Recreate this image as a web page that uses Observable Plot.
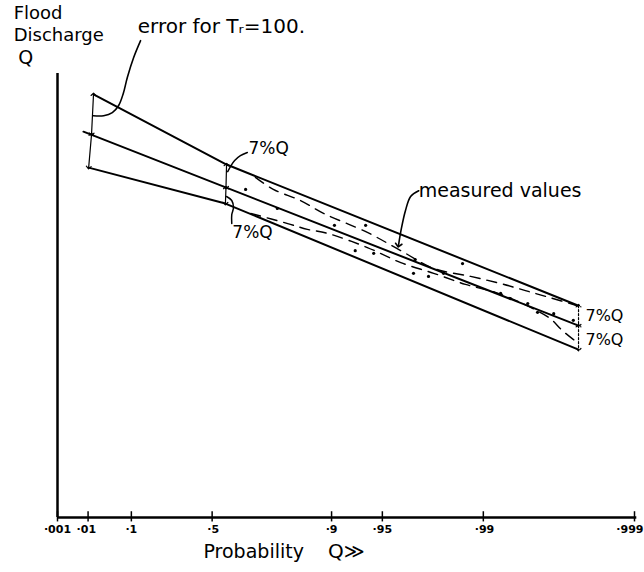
<!DOCTYPE html>
<html><head><meta charset="utf-8">
<script src="https://cdn.jsdelivr.net/npm/d3@7"></script>
<script src="https://cdn.jsdelivr.net/npm/@observablehq/plot@0.6"></script>
<style>body{margin:0;background:#fff}</style>
</head><body><div id="chart"></div>
<script>
// x: distance along the probability paper (0..100); y: flood discharge Q (arbitrary units)
const tickPos = [0, 5.3, 12.8, 26.8, 47.5, 56.3, 73.8, 100];
const tickLabels = ["·001", "·01", "·1", "·5", "·9", "·95", "·99", "·999"];
const tickLabelPos = [0, 5.0, 12.8, 27.0, 47.5, 56.3, 74.0, 99.2];

const upperU = [6.24, 29.3, 90.3];
const upperQ = [95.3, 79.5, 47.7];
const middleU = [4.5, 90.3];
const middleQ = [86.9, 43.2];
const lowerU = [5.4, 29.1, 90.3];
const lowerQ = [78.8, 70.7, 37.8];

const dashUpperU = [34.3, 37.4, 42.1, 46.1, 53.7, 59.5, 65.2, 71.6, 76.8, 81.1, 85.4, 90.1];
const dashUpperQ = [76.6, 73.9, 71.4, 68.5, 64.2, 60.1, 56.1, 54.3, 52.7, 51.1, 49.5, 47.7];
const dashLowerU = [33.5, 39.9, 43.3, 46.8, 53.7, 59.5, 65.2, 70.7, 75.9, 79.4, 82.8, 85.4, 87.5, 90.1];
const dashLowerQ = [68.5, 66.2, 64.9, 64.0, 60.8, 57.4, 55.0, 52.5, 50.7, 48.9, 46.8, 44.8, 42.1, 39.4];

const measuredU = [32.6, 38.1, 48.0, 53.4, 51.6, 54.8, 62.0, 61.7, 64.3, 66.9, 70.2, 76.8, 78.5, 81.5, 83.2, 86.0, 89.4];
const measuredQ = [73.9, 69.6, 65.8, 65.8, 60.1, 59.5, 58.1, 55.0, 54.3, 55.0, 57.2, 50.5, 49.3, 48.2, 46.2, 45.9, 44.4];

// error bars (7% Q) at three places: [top, middle, bottom]
const errLeftU = [6.24, 5.9, 5.4];
const errLeftQ = [95.3, 86.3, 78.8];
const errMidU = [29.3, 29.2, 29.1];
const errMidQ = [79.5, 74.3, 70.7];
const errRightU = [90.3, 90.3, 90.3];
const errRightQ = [47.7, 43.2, 37.8];

// leader curves
const leadErrU = [14.4, 13.2, 12.1, 11.4, 10.6, 9.5, 8.0, 6.2];
const leadErrQ = [107.4, 103.6, 99.1, 95.5, 92.8, 91.2, 90.5, 90.5];
const leadMeasU = [62.6, 61.2, 60.3, 59.6, 59.1];
const leadMeasQ = [73.6, 72.3, 69.1, 65.1, 61.3];
const leadMidUpU = [32.9, 31.7, 30.7, 30.0, 29.5];
const leadMidUpQ = [82.2, 81.5, 80.4, 79.1, 77.9];
const leadMidLoU = [30.2, 30.2, 30.5, 30.2, 29.3];
const leadMidLoQ = [66.2, 68.2, 69.8, 71.4, 72.3];

const zip = (us, qs) => us.map((u, i) => ({u, q: qs[i]}));
const seg = (us, qs, a, b) => [{u: us[a], q: qs[a]}, {u: us[b], q: qs[b]}];

const font = "DejaVu Sans";
const lw = 2;

const marks = [
  // axes
  Plot.ruleY([0], {x1: 0, x2: 100.4, stroke: "black", strokeWidth: 2.5}),
  Plot.ruleX([0], {y1: 0, y2: 100, stroke: "black", strokeWidth: 2.5}),
  Plot.ruleX(tickPos, {y1: -1, y2: 1.3, stroke: "black", strokeWidth: 1.5}),
  Plot.text(tickLabelPos, {x: d => d, y: -2.6, text: (d, i) => tickLabels[i], fontSize: 11, fontWeight: "bold", fill: "black"}),
  // band lines
  Plot.line(zip(upperU, upperQ), {x: "u", y: "q", stroke: "black", strokeWidth: lw}),
  Plot.line(zip(middleU, middleQ), {x: "u", y: "q", stroke: "black", strokeWidth: lw}),
  Plot.line(zip(lowerU, lowerQ), {x: "u", y: "q", stroke: "black", strokeWidth: lw}),
  // dashed curves
  Plot.line(zip(dashUpperU, dashUpperQ), {x: "u", y: "q", stroke: "black", strokeWidth: 1.4, strokeDasharray: "10,7", curve: "catmull-rom"}),
  Plot.line(zip(dashLowerU, dashLowerQ), {x: "u", y: "q", stroke: "black", strokeWidth: 1.4, strokeDasharray: "10,7", curve: "catmull-rom"}),
  // measured values
  Plot.dot(zip(measuredU, measuredQ), {x: "u", y: "q", r: 1.6, fill: "black"}),
];

// error dimension bars
for (const [us, qs, dash] of [[errLeftU, errLeftQ, null], [errMidU, errMidQ, null], [errRightU, errRightQ, "2,2"]]) {
  for (const [a, b] of [[0, 1], [1, 2]]) {
    marks.push(Plot.line(seg(us, qs, a, b), {x: "u", y: "q", stroke: "black", strokeWidth: 1.2,
      strokeDasharray: dash, markerStart: "arrow-reverse", markerEnd: "arrow"}));
  }
}

// leaders
marks.push(
  Plot.line(zip(leadErrU, leadErrQ), {x: "u", y: "q", stroke: "black", strokeWidth: 1.6, curve: "catmull-rom"}),
  Plot.line(zip(leadMeasU, leadMeasQ), {x: "u", y: "q", stroke: "black", strokeWidth: 1.6, curve: "catmull-rom", markerEnd: "arrow"}),
  Plot.line(zip(leadMidUpU, leadMidUpQ), {x: "u", y: "q", stroke: "black", strokeWidth: 1.5, curve: "catmull-rom"}),
  Plot.line(zip(leadMidLoU, leadMidLoQ), {x: "u", y: "q", stroke: "black", strokeWidth: 1.5, curve: "catmull-rom"})
);

// labels
const txt = (t, u, q, size, anchor = "start") =>
  Plot.text([t], {x: () => u, y: () => q, text: d => d, fontSize: size, textAnchor: anchor, fill: "black", fontFamily: font});
marks.push(
  txt("Flood", -7.6, 113.6, 18),
  txt("Discharge", -7.6, 108.6, 18),
  txt("Q", -6.8, 103.4, 19),
  txt("error for Tᵣ=100.", 13.9, 110.6, 20),
  txt("7%Q", 33.1, 83.1, 17),
  txt("7%Q", 30.3, 64.2, 17),
  txt("7%Q", 91.5, 45.5, 16),
  txt("7%Q", 91.5, 39.9, 16),
  txt("measured values", 62.6, 73.6, 19),
  txt("Probability", 25.3, -7.7, 19),
  txt("Q≫", 46.9, -7.7, 20)
);

const chart = Plot.plot({
  width: 644, height: 572,
  marginTop: 73, marginBottom: 55, marginLeft: 57, marginRight: 10,
  x: {domain: [0, 100], axis: null},
  y: {domain: [0, 100], axis: null},
  style: {fontFamily: font, background: "#fff", color: "black"},
  marks
});
document.getElementById("chart").append(chart);
</script>
</body></html>
